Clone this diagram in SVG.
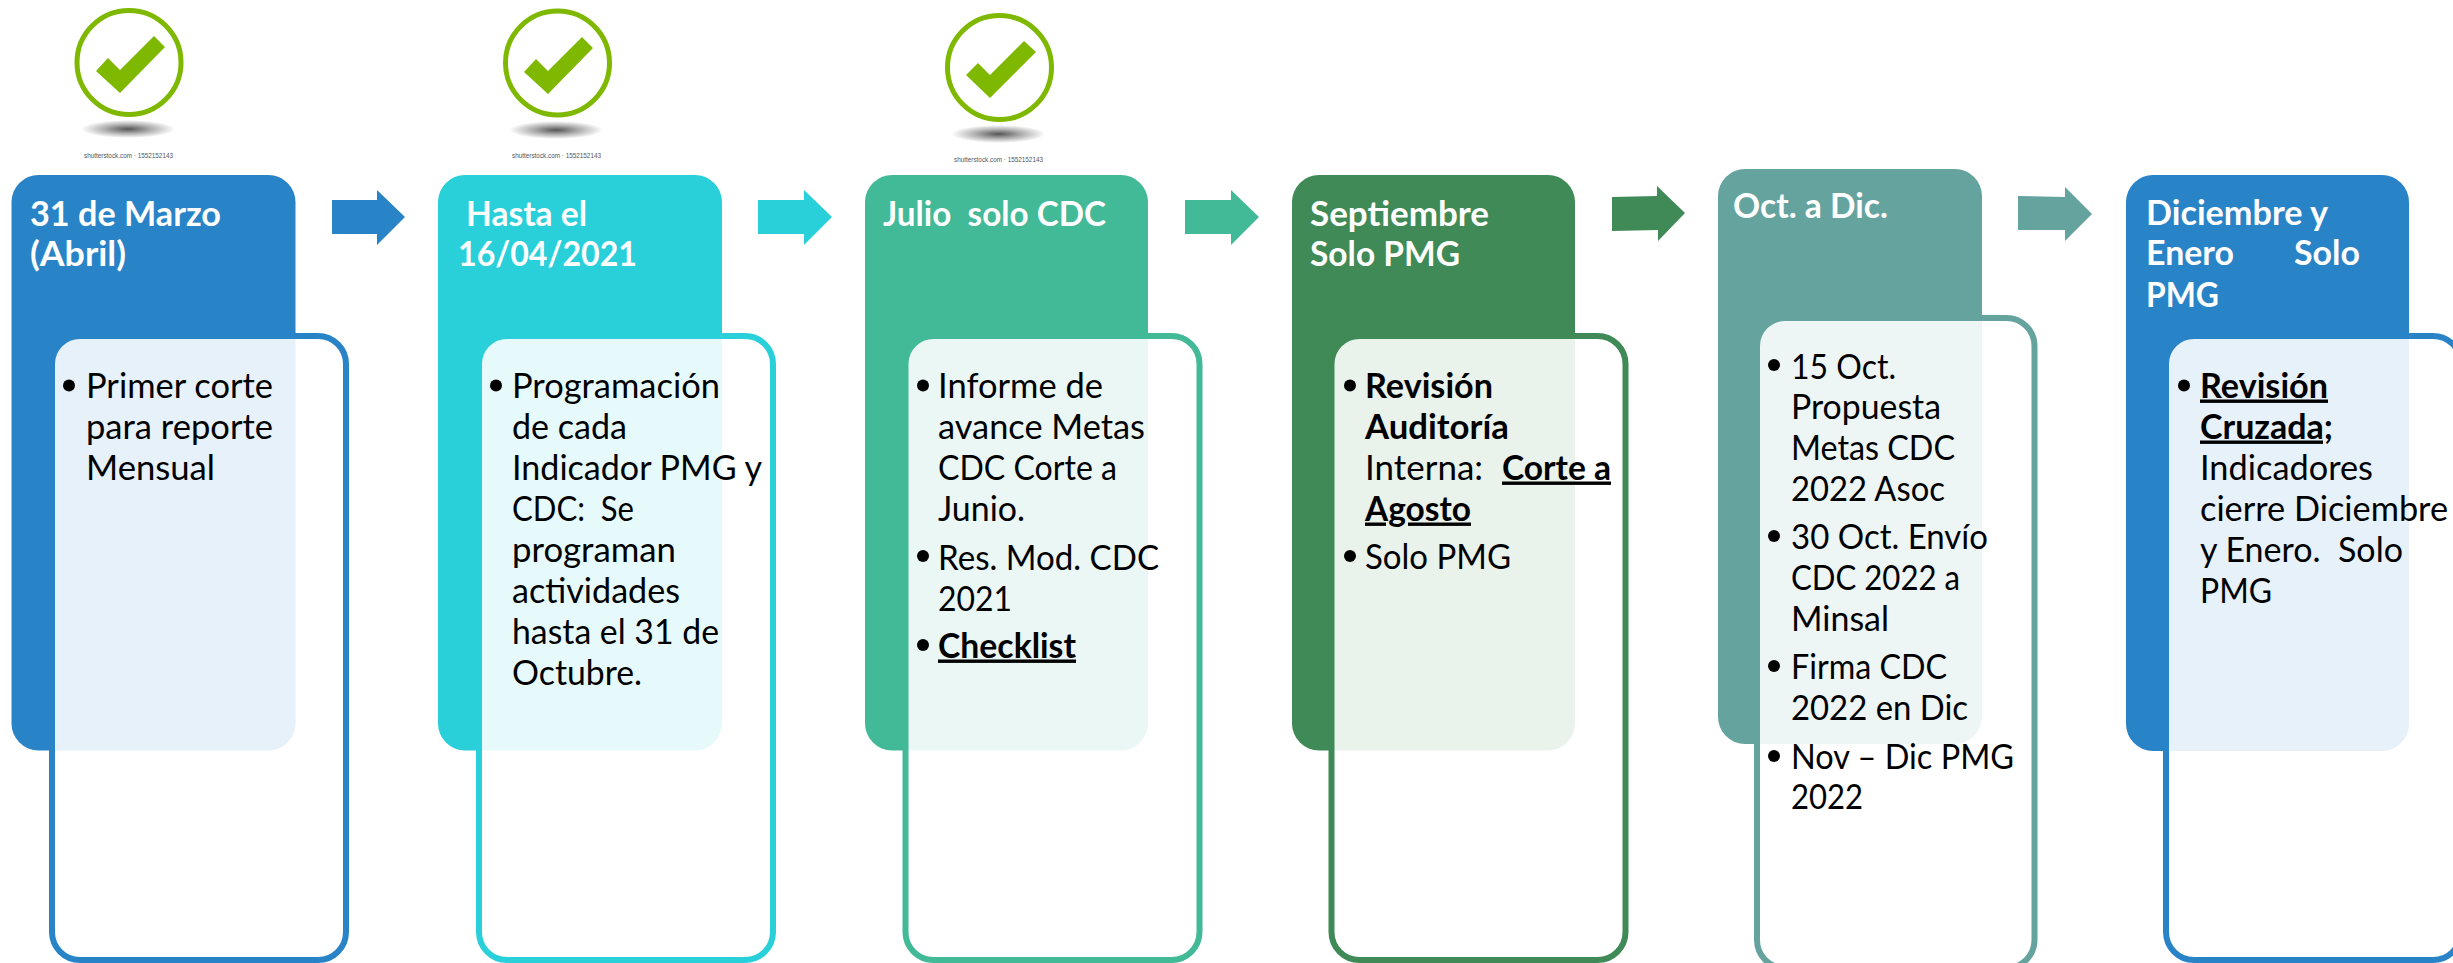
<svg xmlns="http://www.w3.org/2000/svg" width="2453" height="963" viewBox="0 0 2453 963">
<defs>
<radialGradient id="sh"><stop offset="0" stop-color="#555"/><stop offset=".5" stop-color="#b0b0b0"/><stop offset="1" stop-color="#fff"/></radialGradient>
<filter id="soft" x="-10%" y="-10%" width="120%" height="120%"><feGaussianBlur stdDeviation=".5"/></filter>
<style>
text{font-family:Lato,"Liberation Sans",sans-serif;font-size:34px;fill:#000}
.t{font-weight:700;fill:#fff}
.b{font-weight:700}
.u{font-weight:700;text-decoration:underline}
.s{font-family:"Liberation Sans",sans-serif;font-size:8px;fill:#555}
.o{fill:#fff;fill-opacity:.89;stroke-width:6}
.ring{fill:#fff;stroke:#7fb800;stroke-width:5}
.chk{fill:#7fb800}
.sh{fill:url(#sh)}
.icon{filter:url(#soft)}
.c1{fill:#2983c7}.c2{fill:#29cfd9}.c3{fill:#42b997}.c4{fill:#3f8a56}.c5{fill:#65a39f}
.l1{stroke:#2983c7}.l2{stroke:#29cfd9}.l3{stroke:#42b997}.l4{stroke:#3f8a56}.l5{stroke:#65a39f}
</style>
</defs>
<rect width="2453" height="963" fill="#fff"/>

<g id="check-1">
<g class="icon">
<circle class="ring" cx="129" cy="62.500" r="52"/>
<polygon class="chk" points="154,36 165,47 120,93 96,71 108,58 120,70"/>
<ellipse class="sh" cx="128" cy="129" rx="47" ry="9"/>
</g>
<text class="s" x="84" y="157.500" textLength="89" lengthAdjust="spacingAndGlyphs">shutterstock.com · 1552152143</text>
</g>
<g id="check-2">
<g class="icon">
<circle class="ring" cx="557.500" cy="63" r="52"/>
<polygon class="chk" points="582,37 593,48 548,94 524,72 536,59 548,71"/>
<ellipse class="sh" cx="556" cy="130" rx="47" ry="9"/>
</g>
<text class="s" x="512" y="158" textLength="89" lengthAdjust="spacingAndGlyphs">shutterstock.com · 1552152143</text>
</g>
<g id="check-3">
<g class="icon">
<circle class="ring" cx="999.500" cy="67.500" r="52"/>
<polygon class="chk" points="1024,41 1036,52 990,98 966,75 978,63 990,75"/>
<ellipse class="sh" cx="998.500" cy="134" rx="47" ry="9"/>
</g>
<text class="s" x="954" y="162" textLength="89" lengthAdjust="spacingAndGlyphs">shutterstock.com · 1552152143</text>
</g>

<g id="connectors">
<polygon class="c1" points="332,200 377,200 377,190 405,217 377,245 377,234 332,234"/>
<polygon class="c2" points="758,200 804,200 804,190 832,217 804,245 804,234 758,234"/>
<polygon class="c3" points="1185,200 1231,200 1231,190 1259,217 1231,245 1231,234 1185,234"/>
<polygon class="c4" points="1612,197 1657,196 1657,186 1685,213 1658,241 1658,230 1612,231"/>
<polygon class="c5" points="2018,196 2065,197 2065,187 2092,214 2065,241 2065,230 2018,230"/>
</g>

<g id="node-1">
<rect class="c1" x="11.500" y="175" width="284" height="575.500" rx="27"/>
<rect class="o l1" x="52" y="336" width="294" height="624" rx="28"/>
<text class="t" x="30" y="226" textLength="191" lengthAdjust="spacingAndGlyphs">31 de Marzo</text>
<text class="t" x="30" y="266" textLength="96" lengthAdjust="spacingAndGlyphs">(Abril)</text>
<circle cx="69" cy="385.500" r="6"/>
<text x="86" y="397.500" textLength="187" lengthAdjust="spacingAndGlyphs">Primer corte</text>
<text x="86" y="438.500" textLength="187" lengthAdjust="spacingAndGlyphs">para reporte</text>
<text x="86" y="479.500" textLength="129" lengthAdjust="spacingAndGlyphs">Mensual</text>
</g>

<g id="node-2">
<rect class="c2" x="438" y="175" width="284" height="575.500" rx="27"/>
<rect class="o l2" x="479" y="336" width="294" height="624" rx="28"/>
<text class="t" x="466" y="226" textLength="121" lengthAdjust="spacingAndGlyphs">Hasta el</text>
<text class="t" x="458" y="266" textLength="179" lengthAdjust="spacingAndGlyphs">16/04/2021</text>
<circle cx="496" cy="385.500" r="6"/>
<text x="512" y="397.500" textLength="208" lengthAdjust="spacingAndGlyphs">Programación</text>
<text x="512" y="438.500" textLength="115" lengthAdjust="spacingAndGlyphs">de cada</text>
<text x="512" y="479.500" textLength="250" lengthAdjust="spacingAndGlyphs">Indicador PMG y</text>
<text x="512" y="520.500" textLength="122" lengthAdjust="spacingAndGlyphs" xml:space="preserve">CDC:  Se</text>
<text x="512" y="561.500" textLength="164" lengthAdjust="spacingAndGlyphs">programan</text>
<text x="512" y="602.500" textLength="168" lengthAdjust="spacingAndGlyphs">actividades</text>
<text x="512" y="643.500" textLength="207" lengthAdjust="spacingAndGlyphs">hasta el 31 de</text>
<text x="512" y="684.500" textLength="130" lengthAdjust="spacingAndGlyphs">Octubre.</text>
</g>

<g id="node-3">
<rect class="c3" x="865" y="175" width="283" height="575.500" rx="27"/>
<rect class="o l3" x="905.500" y="336" width="294" height="624" rx="28"/>
<text class="t" x="883" y="226" textLength="223" lengthAdjust="spacingAndGlyphs" xml:space="preserve">Julio  solo CDC</text>
<circle cx="923" cy="385.500" r="6"/>
<text x="938" y="397.500" textLength="165" lengthAdjust="spacingAndGlyphs">Informe de</text>
<text x="938" y="438.500" textLength="207" lengthAdjust="spacingAndGlyphs">avance Metas</text>
<text x="938" y="479.500" textLength="179" lengthAdjust="spacingAndGlyphs">CDC Corte a</text>
<text x="938" y="520.500" textLength="87" lengthAdjust="spacingAndGlyphs">Junio.</text>
<circle cx="923" cy="556" r="6"/>
<text x="938" y="569.500" textLength="221" lengthAdjust="spacingAndGlyphs">Res. Mod. CDC</text>
<text x="938" y="610.500" textLength="74" lengthAdjust="spacingAndGlyphs">2021</text>
<circle cx="923" cy="645" r="6"/>
<text class="u" x="938" y="657.500" textLength="138" lengthAdjust="spacingAndGlyphs">Checklist</text>
</g>

<g id="node-4">
<rect class="c4" x="1292" y="175" width="283" height="575.500" rx="27"/>
<rect class="o l4" x="1331.500" y="336" width="294" height="624" rx="28"/>
<text class="t" x="1310" y="226" textLength="179" lengthAdjust="spacingAndGlyphs">Septiembre</text>
<text class="t" x="1310" y="266" textLength="150" lengthAdjust="spacingAndGlyphs">Solo PMG</text>
<circle cx="1350" cy="385.500" r="6"/>
<text class="b" x="1365" y="397.500" textLength="128" lengthAdjust="spacingAndGlyphs">Revisión</text>
<text class="b" x="1365" y="438.500" textLength="144" lengthAdjust="spacingAndGlyphs">Auditoría</text>
<text x="1365" y="479.500" textLength="118" lengthAdjust="spacingAndGlyphs">Interna:</text>
<text class="u" x="1502" y="479.500" textLength="109" lengthAdjust="spacingAndGlyphs">Corte a</text>
<text class="u" x="1365" y="520.500" textLength="106" lengthAdjust="spacingAndGlyphs">Agosto</text>
<circle cx="1350" cy="556" r="6"/>
<text x="1365" y="568.500" textLength="146" lengthAdjust="spacingAndGlyphs">Solo PMG</text>
</g>

<g id="node-5">
<rect class="c5" x="1718" y="169" width="264" height="575" rx="27"/>
<rect class="o l5" x="1757" y="318" width="277.500" height="650" rx="28"/>
<text class="t" x="1733" y="218" textLength="155" lengthAdjust="spacingAndGlyphs">Oct. a Dic.</text>
<circle cx="1774" cy="365" r="6"/>
<text x="1791" y="378.500" textLength="105" lengthAdjust="spacingAndGlyphs">15 Oct.</text>
<text x="1791" y="418.500" textLength="150" lengthAdjust="spacingAndGlyphs">Propuesta</text>
<text x="1791" y="459.500" textLength="164" lengthAdjust="spacingAndGlyphs">Metas CDC</text>
<text x="1791" y="500.500" textLength="154" lengthAdjust="spacingAndGlyphs">2022 Asoc</text>
<circle cx="1774" cy="536" r="6"/>
<text x="1791" y="548.500" textLength="197" lengthAdjust="spacingAndGlyphs">30 Oct. Envío</text>
<text x="1791" y="589.500" textLength="169" lengthAdjust="spacingAndGlyphs">CDC 2022 a</text>
<text x="1791" y="630.500" textLength="98" lengthAdjust="spacingAndGlyphs">Minsal</text>
<circle cx="1774" cy="666" r="6"/>
<text x="1791" y="678.500" textLength="156" lengthAdjust="spacingAndGlyphs">Firma CDC</text>
<text x="1791" y="719.500" textLength="177" lengthAdjust="spacingAndGlyphs">2022 en Dic</text>
<circle cx="1774" cy="756" r="6"/>
<text x="1791" y="768.500" textLength="223" lengthAdjust="spacingAndGlyphs">Nov – Dic PMG</text>
<text x="1791" y="808.500" textLength="72" lengthAdjust="spacingAndGlyphs">2022</text>
</g>

<g id="node-6">
<rect class="c1" x="2126" y="175" width="283" height="576" rx="27"/>
<rect class="o l1" x="2166" y="336" width="295" height="624" rx="28"/>
<text class="t" x="2146" y="225" textLength="182" lengthAdjust="spacingAndGlyphs">Diciembre y</text>
<text class="t" x="2146" y="265" textLength="88" lengthAdjust="spacingAndGlyphs">Enero</text>
<text class="t" x="2294" y="265" textLength="66" lengthAdjust="spacingAndGlyphs">Solo</text>
<text class="t" x="2146" y="307" textLength="73" lengthAdjust="spacingAndGlyphs">PMG</text>
<circle cx="2184" cy="385.500" r="6"/>
<text class="u" x="2200" y="397.500" textLength="128" lengthAdjust="spacingAndGlyphs">Revisión</text>
<text class="u" x="2200" y="438.500" textLength="133" lengthAdjust="spacingAndGlyphs">Cruzada;</text>
<text x="2200" y="479.500" textLength="173" lengthAdjust="spacingAndGlyphs">Indicadores</text>
<text x="2200" y="520.500" textLength="248" lengthAdjust="spacingAndGlyphs">cierre Diciembre</text>
<text x="2200" y="561.500" textLength="203" lengthAdjust="spacingAndGlyphs" xml:space="preserve">y Enero.  Solo</text>
<text x="2200" y="602.500" textLength="72" lengthAdjust="spacingAndGlyphs">PMG</text>
</g>
</svg>
